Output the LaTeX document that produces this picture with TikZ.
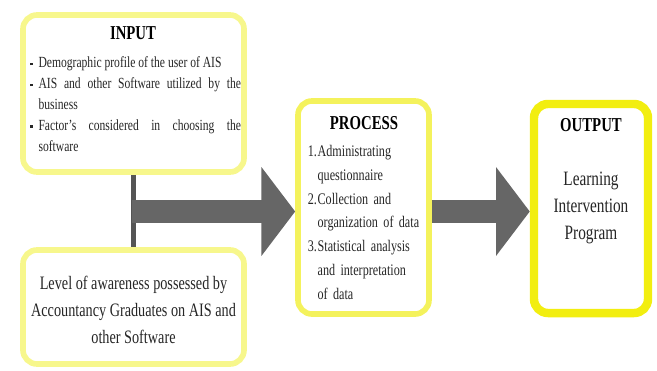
\documentclass[tikz,border=0pt]{standalone}
\usepackage{fontspec}
\setmainfont[FakeStretch=0.75]{Liberation Serif}
\usepackage{enumitem}
\usetikzlibrary{arrows.meta}

\definecolor{paleyellow}{HTML}{F7F78C}
\definecolor{midyellow}{HTML}{F4F25C}
\definecolor{brightyellow}{HTML}{F2EE10}
\definecolor{arrowgrey}{HTML}{666666}
\definecolor{bargrey}{HTML}{555555}

\tikzset{
  frame/.style={draw=#1, line width=4pt, rounded corners=10pt, fill=white, inner sep=0pt},
  heading/.style={font=\fontsize{14}{16}\selectfont\bfseries, inner sep=0pt},
  bodytext/.style={inner sep=0pt, text=black!85},
  fatarrow/.style={draw=arrowgrey, line width=16.3pt, -{Triangle[length=24pt,width=62pt]}},
}

\begin{document}
\begin{tikzpicture}[x=0.025cm,y=-0.025cm]

    \useasboundingbox (0,0) rectangle (657,370); % Page size

    % Boxes
    \node[frame=paleyellow, minimum width=5.525cm, minimum height=3.925cm] (input) at (133.5,93.5) {};
    \node[frame=paleyellow, minimum width=5.525cm, minimum height=2.85cm] (aware) at (133.5,307) {};
    \node[frame=midyellow, minimum width=3.275cm, minimum height=5.325cm] (process) at (363.5,207.5) {};
    \node[frame=brightyellow, line width=6pt, minimum width=2.85cm, minimum height=5.225cm] (output) at (591,208.5) {};

    % Joining bar and arrows
    \draw[bargrey, line width=4.2pt] (input.south) -- (aware.north);
    \coordinate (junction) at (132,211.5);
    \draw[fatarrow] (junction) -- (junction -| process.west);
    \draw[fatarrow] (junction -| process.east) -- (junction -| output.west);

    % Input
    \node[heading] (inhead) at (133,33) {INPUT};
    \node[bodytext, anchor=north west, text width=152pt, align=justify,
          font=\fontsize{11}{14.9}\selectfont] (inlist) at (27,46) {%
      \begin{itemize}[leftmargin=8pt, labelsep=4pt, topsep=0pt, partopsep=0pt, itemsep=0pt, parsep=0pt,
                      label=\raisebox{1.5pt}{\rule{1.8pt}{1.8pt}}]
        \item Demographic profile of the user of AIS
        \item AIS and other Software utilized by the\linebreak business
        \item Factor's considered in choosing the\linebreak software
      \end{itemize}};

    % Awareness
    \node[bodytext, align=center, font=\fontsize{13.5}{19}\selectfont] (awaretext) at (133.5,310)
      {Level of awareness possessed by\\Accountancy Graduates on AIS and\\other Software};

    % Process
    \node[heading] (prochead) at (364,123) {PROCESS};
    \node[bodytext, anchor=north west, text width=92pt,
          font=\fontsize{11.5}{17}\selectfont] (proclist) at (304,132) {%
      \raggedright
      \begin{enumerate}[label=\arabic*., leftmargin=9.5pt, labelsep=0.5pt, topsep=0pt, partopsep=0pt,
                        itemsep=0pt, parsep=0pt]
        \item Administrating\newline questionnaire
        \item Collection and\newline organization of data
        \item Statistical analysis\newline and interpretation\newline of data
      \end{enumerate}};

    % Output
    \node[heading] (outhead) at (591,125) {OUTPUT};
    \node[bodytext, align=center, font=\fontsize{14.5}{19.5}\selectfont] (outtext) at (591,208)
      {Learning\\Intervention\\Program};

\end{tikzpicture}
\end{document}
